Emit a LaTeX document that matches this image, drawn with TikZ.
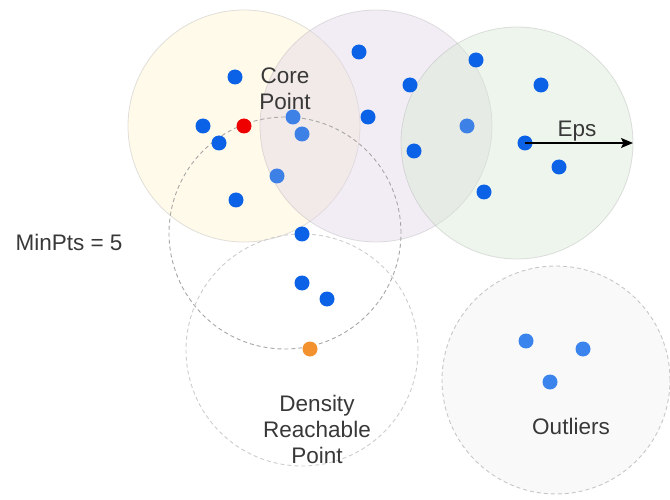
\documentclass[tikz,border=0pt]{standalone}
\usepackage{fontspec}
\setmainfont{Liberation Sans}
\usetikzlibrary{arrows.meta}
\definecolor{dotblue}{HTML}{0B62E6}
\definecolor{dotlight}{HTML}{3D80E6}
\definecolor{dotout}{HTML}{3B84EE}
\definecolor{dotred}{HTML}{EE0000}
\definecolor{dotorange}{HTML}{F2912E}
\definecolor{txt}{HTML}{383838}
\definecolor{fyellow}{HTML}{FFF2CC}
\definecolor{fpurple}{HTML}{E1D5E7}
\definecolor{fgreen}{HTML}{D5E8D4}
\tikzset{
  bigcirc/.style={circle, minimum size=232pt, inner sep=0pt, draw=black!30, draw opacity=0.4, line width=0.8pt, fill opacity=0.42},
  dashcirc/.style={circle, minimum size=232pt, inner sep=0pt, draw=black!35, line width=0.9pt, dash pattern=on 4pt off 3pt},
  pt/.style={circle, minimum size=15pt, inner sep=0pt, fill=dotblue},
  ptl/.style={pt, fill=dotlight},
  pto/.style={pt, fill=dotout},
  lbl/.style={text=txt, font=\fontsize{22.5}{26}\selectfont, align=center, inner sep=0pt}
}
\begin{document}
\begin{tikzpicture}[x=1pt,y=-1pt]
\useasboundingbox (0,0) rectangle (670,500);
% translucent neighbourhoods
\node[bigcirc, fill=fyellow] (cy) at (244,126) {};
\node[bigcirc, fill=fpurple] (cp) at (376,126) {};
\node[bigcirc, fill=fgreen] (cg) at (517,143) {};
% dashed neighbourhoods
\node[dashcirc] (dc1) at (285,233) {};
\node[dashcirc, draw=black!20] (dc2) at (302,350) {};
\node[dashcirc, minimum size=228pt, draw=black!22, fill=black!2.5] (dc3) at (556,380) {};
% points
\node[pt] (p1) at (235,77) {};
\node[pt] (p2) at (203,126) {};
\node[pt, fill=dotred] (core) at (244,126) {};
\node[pt] (p3) at (219,143) {};
\node[ptl] (p4) at (293,117) {};
\node[ptl] (p5) at (302,134) {};
\node[ptl] (p6) at (277,176) {};
\node[pt] (p7) at (236,200) {};
\node[pt] (p8) at (302,234) {};
\node[pt] (p9) at (359,52) {};
\node[pt] (p10) at (368,117) {};
\node[pt] (p11) at (410,85) {};
\node[pt] (p12) at (476,60) {};
\node[pt] (p13) at (541,85) {};
\node[ptl] (p14) at (467,126) {};
\node[pt] (p15) at (414,151) {};
\node[pt] (eps) at (525,143) {};
\node[pt] (p16) at (559,167) {};
\node[pt] (p17) at (484,192) {};
\node[pt] (p18) at (302,283) {};
\node[pt] (p19) at (327,299) {};
\node[pt, fill=dotorange] (reach) at (310,349) {};
\node[pto] (o1) at (526,341) {};
\node[pto] (o2) at (583,349) {};
\node[pto] (o3) at (550,382) {};
% Eps arrow
\coordinate (epsend) at (633,143);
\draw[-{Stealth[length=12pt,width=10pt,inset=2.5pt]}, line width=1.3pt, black] (eps.center) -- (epsend);
% labels
\node[lbl] (tcore) at (285,88.5) {Core\\Point};
\node[lbl] (teps) at (577,131) {Eps};
\node[lbl] (tmin) at (69,242) {MinPts = 5};
\node[lbl] (tdens) at (317,429) {Density\\Reachable\\Point};
\node[lbl] (tout) at (571,426) {Outliers};
\end{tikzpicture}
\end{document}
